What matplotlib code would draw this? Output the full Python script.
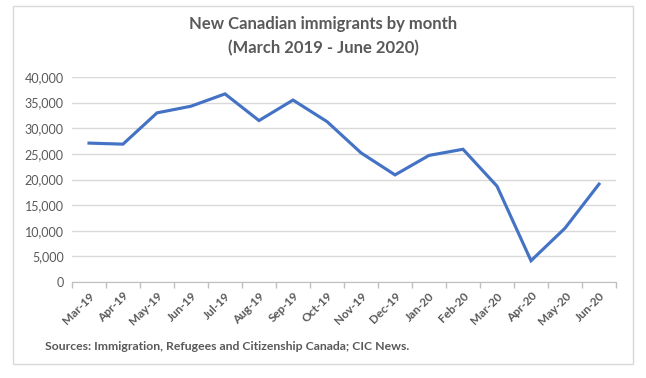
import numpy as np
import matplotlib
matplotlib.use("Agg")
from matplotlib import pyplot as plt
from matplotlib.ticker import FuncFormatter, FixedLocator
from matplotlib.patches import Rectangle

# data
months = ["Mar-19", "Apr-19", "May-19", "Jun-19", "Jul-19", "Aug-19", "Sep-19", "Oct-19",
          "Nov-19", "Dec-19", "Jan-20", "Feb-20", "Mar-20", "Apr-20", "May-20", "Jun-20"]
immigrants = [27100, 26900, 33000, 34300, 36700, 31500, 35500, 31300,
              25200, 20900, 24700, 25900, 18700, 4150, 10500, 19100]
y_ticks = [0, 5000, 10000, 15000, 20000, 25000, 30000, 35000, 40000]

plt.rcParams['font.family'] = ['Lato', 'DejaVu Sans']
grey_txt = '#595959'

fig = plt.figure(figsize=(6.46, 3.78), dpi=100)
ax = fig.add_axes([72/646, 1-282/378, 544/646, 205/378])

# chart border
fig.patches.append(Rectangle((13/646, 1-364/378), 620/646, 358/378, transform=fig.transFigure,
                             fill=False, edgecolor='#D9D9D9', linewidth=1))

x = np.arange(len(months))
ax.plot(x, immigrants, color='#4472C4', linewidth=2.25, solid_joinstyle='miter')

ax.set_xlim(-0.5, len(months) - 0.5)
ax.set_ylim(0, 40000)
ax.set_yticks(y_ticks)
ax.yaxis.set_major_formatter(FuncFormatter(lambda v, p: f"{int(v):,}"))
ax.grid(axis='y', color='#D9D9D9', linewidth=1)
ax.set_axisbelow(True)

ax.set_xticks(x)
ax.set_xticklabels(months, rotation=45, ha='right', rotation_mode='anchor', fontweight='bold')
ax.xaxis.set_minor_locator(FixedLocator(np.arange(-0.5, len(months), 1)))
ax.tick_params(axis='x', which='major', length=0, pad=6, labelsize=8.5, labelcolor=grey_txt)
ax.tick_params(axis='x', which='minor', length=4, color='#BFBFBF', width=1)
ax.tick_params(axis='y', length=0, labelsize=9, labelcolor=grey_txt, pad=6)

for s in ['top', 'right', 'left']:
    ax.spines[s].set_visible(False)
ax.spines['bottom'].set_color('#BFBFBF')

fig.text(0.5, 1-24/378, "New Canadian immigrants by month", ha='center', va='center',
         fontsize=12, color=grey_txt, fontweight='bold')
fig.text(0.5, 1-48/378, "(March 2019 - June 2020)", ha='center', va='center',
         fontsize=12, color=grey_txt, fontweight='bold')
fig.text(45/646, 1-347/378, "Sources: Immigration, Refugees and Citizenship Canada; CIC News.",
         ha='left', va='center', fontsize=8.8, color=grey_txt, fontweight='bold')

fig.savefig("out.png", dpi=100)
